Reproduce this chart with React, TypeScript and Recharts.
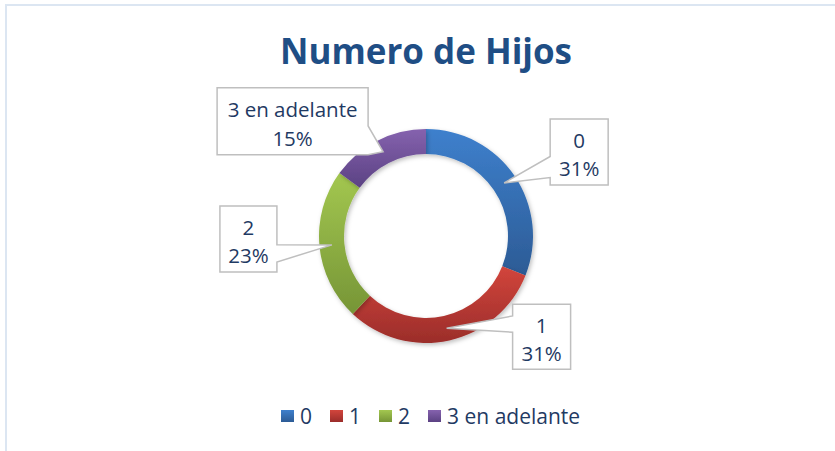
import React from 'react';
import { PieChart, Pie, Cell, Legend } from 'recharts';

const categories = ['0', '1', '2', '3 en adelante'];
const percentValues = [31, 31, 23, 15];
const percentLabels = ['31%', '31%', '23%', '15%'];
const chartTitle = 'Numero de Hijos';

const data = categories.map((name, i) => ({ name, value: percentValues[i], pct: percentLabels[i] }));

const gradients = [
  { id: 'g0', top: '#3E80CD', bottom: '#2C5B95' },
  { id: 'g1', top: '#D2453C', bottom: '#9B2D2A' },
  { id: 'g2', top: '#A3C750', bottom: '#769536' },
  { id: 'g3', top: '#8562AE', bottom: '#5B4283' },
];

// callout box layout relative to pointer tip: dx, dy (box top-left), w, h, side, base fractions
const calloutLayout = [
  { dx: 46, dy: -64, w: 58, h: 66, side: 'left', b0: 0.57, b1: 0.89 },
  { dx: 66, dy: -24, w: 58, h: 65, side: 'left', b0: 0.18, b1: 0.43 },
  { dx: -112, dy: -39, w: 57, h: 66, side: 'right', b0: 0.59, b1: 0.85 },
  { dx: -166, dy: -64, w: 151, h: 67, side: 'right', b0: 0.57, b1: 1.0 },
];

const TEXT_COLOR = '#1F3A63';
const FONT = '"Open Sans", "Noto Sans", sans-serif';
const RAD = Math.PI / 180;

const renderCallout = (props: any) => {
  const { cx, cy, midAngle, innerRadius, outerRadius, index } = props;
  const r = (innerRadius + outerRadius) / 2;
  const tx = cx + r * Math.cos(-midAngle * RAD);
  const ty = cy + r * Math.sin(-midAngle * RAD);
  const L = calloutLayout[index];
  const x = tx + L.dx;
  const y = ty + L.dy;
  const { w, h } = L;
  const y1 = y + h * L.b0;
  const y2 = y + h * L.b1;
  let d = '';
  if (L.side === 'left') {
    d = `M${x},${y} H${x + w} V${y + h} H${x} V${y2} L${tx},${ty} L${x},${y1} Z`;
  } else {
    d = `M${x},${y} H${x + w} V${y1} L${tx},${ty} L${x + w},${y2} V${y + h} H${x} Z`;
  }
  const item = data[index];
  return (
    <g key={`callout-${index}`}>
      <path d={d} fill="#FFFFFF" stroke="#BFBFBF" strokeWidth={1.5} />
      <text x={x + w / 2} y={y + h * 0.32} textAnchor="middle" dominantBaseline="central" fill={TEXT_COLOR} fontSize={20.5} fontFamily={FONT}>
        {item.name}
      </text>
      <text x={x + w / 2} y={y + h * 0.75} textAnchor="middle" dominantBaseline="central" fill={TEXT_COLOR} fontSize={20.5} fontFamily={FONT}>
        {item.pct}
      </text>
    </g>
  );
};

const renderLegend = () => (
  <div style={{ display: 'flex', justifyContent: 'flex-start', alignItems: 'center', fontFamily: FONT, fontSize: 21, color: TEXT_COLOR, paddingLeft: 281 }}>
    {data.map((d, i) => (
      <div key={d.name} style={{ display: 'flex', alignItems: 'center', marginRight: 18 }}>
        <span style={{ display: 'inline-block', width: 13, height: 12, marginRight: 6, background: `linear-gradient(${gradients[i].top}, ${gradients[i].bottom})` }} />
        <span style={{ lineHeight: '22px' }}>{d.name}</span>
      </div>
    ))}
  </div>
);

export default function App() {
  return (
    <div style={{ position: 'absolute', left: 0, top: 0, width: 835, height: 451, background: '#FFFFFF', overflow: 'hidden' }}>
      <div style={{ position: 'absolute', left: 5, top: 4, width: 840, height: 470, border: '2px solid #DCE6F2', boxSizing: 'border-box' }} />
      <div style={{ position: 'absolute', left: 0, top: 0 }}>
        <PieChart width={835} height={451} margin={{ top: 0, right: 0, bottom: 0, left: 0 }}>
          <defs>
            {gradients.map((g) => (
              <linearGradient key={g.id} id={g.id} x1="0" y1="0" x2="0" y2="1">
                <stop offset="0%" stopColor={g.top} />
                <stop offset="100%" stopColor={g.bottom} />
              </linearGradient>
            ))}
            <filter id="shadow" x="-20%" y="-20%" width="140%" height="140%">
              <feDropShadow dx="1.5" dy="2" stdDeviation="2" floodColor="#000" floodOpacity="0.25" />
            </filter>
          </defs>
          <text x={426} y={64} textAnchor="middle" fill="#1F4E85" fontSize={36} fontWeight="bold" fontFamily={FONT} textLength={292} lengthAdjust="spacingAndGlyphs">
            {chartTitle}
          </text>
          <Pie
            data={data}
            dataKey="value"
            nameKey="name"
            cx={426}
            cy={236}
            innerRadius={82}
            outerRadius={107}
            startAngle={90}
            endAngle={-270}
            stroke="none"
            label={renderCallout}
            labelLine={false}
            isAnimationActive={false}
            style={{ filter: 'url(#shadow)' }}
          >
            {data.map((d, i) => (
              <Cell key={d.name} fill={`url(#${gradients[i].id})`} stroke="none" />
            ))}
          </Pie>
          <Legend content={renderLegend} wrapperStyle={{ position: 'absolute', left: 0, top: 405, width: 835 }} />
        </PieChart>
      </div>
    </div>
  );
}
